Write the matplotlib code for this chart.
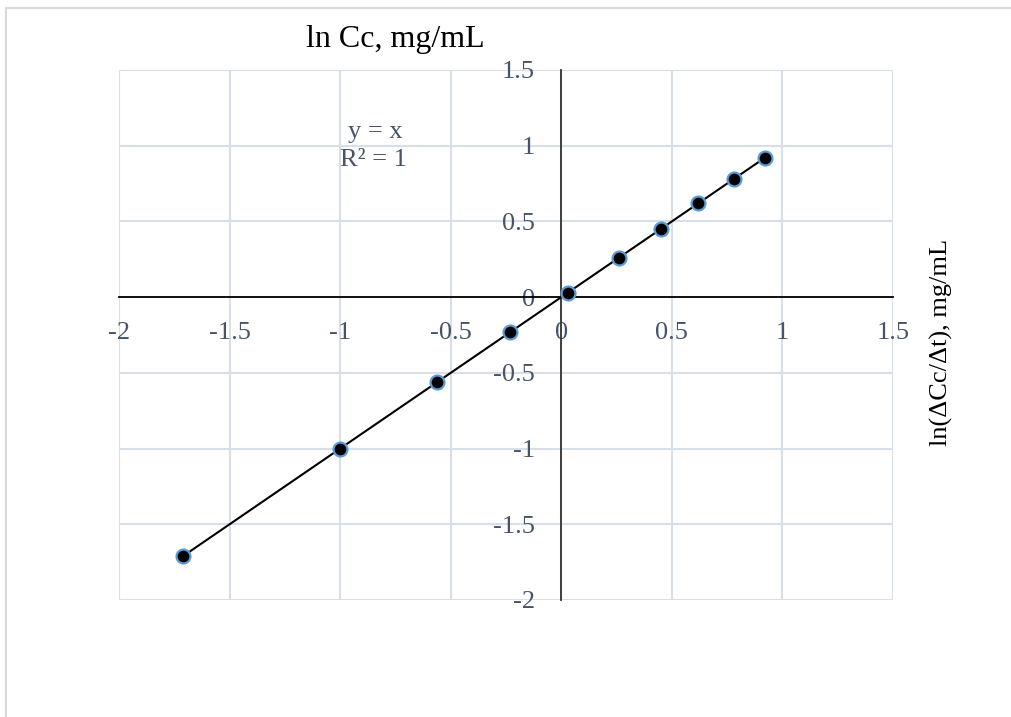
import numpy as np
import matplotlib
matplotlib.use('Agg')
import matplotlib.pyplot as plt
from matplotlib.lines import Line2D

plt.rcParams['font.family'] = ['Liberation Serif', 'DejaVu Serif']

# data
ln_cc = [-1.71, -1.0, -0.56, -0.23, 0.03, 0.26, 0.45, 0.62, 0.78, 0.92]
ln_rate = [-1.71, -1.0, -0.56, -0.23, 0.03, 0.26, 0.45, 0.62, 0.78, 0.92]
xticks = [-2, -1.5, -1, -0.5, 0, 0.5, 1, 1.5]
yticks = [-2, -1.5, -1, -0.5, 0, 0.5, 1, 1.5]
xlabels = ['-2', '-1.5', '-1', '-0.5', '0', '0.5', '1', '1.5']
ylabels = ['-2', '-1.5', '-1', '-0.5', '0', '0.5', '1', '1.5']

W, H = 1011, 717
fig = plt.figure(figsize=(W / 100, H / 100), dpi=100)
ax = fig.add_axes([119 / W, 1 - 600 / H, (893 - 119) / W, (600 - 70) / H])

lab_col = '#44546A'
grid_col = '#D9DFE7'

ax.set_xlim(-2, 1.5)
ax.set_ylim(-2, 1.5)
ax.set_xticks(xticks)
ax.set_xticklabels(xlabels)
ax.set_yticks(yticks)
ax.set_yticklabels(ylabels)
ax.grid(True, color=grid_col, lw=1.5, zorder=0)
for gl in ax.get_xgridlines() + ax.get_ygridlines():
    gl.set_clip_on(False)
ax.set_axisbelow(True)

ax.spines['top'].set_visible(False)
ax.spines['right'].set_visible(False)
ax.spines['left'].set_position('zero')
ax.spines['bottom'].set_position('zero')
ax.spines['left'].set_color('#333333')
ax.spines['bottom'].set_color('black')
ax.spines['left'].set_linewidth(1.3)
ax.spines['bottom'].set_linewidth(1.3)
ax.tick_params(axis='x', length=0, pad=18, labelsize=19, labelcolor=lab_col)
ax.tick_params(axis='y', length=0, pad=19, labelsize=19, labelcolor=lab_col)

# linear trendline
k, b = np.polyfit(ln_cc, ln_rate, 1)
xs = np.array([min(ln_cc), max(ln_cc)])
ax.plot(xs, k * xs + b, color='black', lw=1.5, zorder=3)

ax.plot(ln_cc, ln_rate, 'o', ms=10, mfc='black', mec='#5B9BD5', mew=1.6,
        zorder=4, clip_on=False)

fig.text(375 / W, 1 - 132 / H, 'y = x', ha='center', va='center',
         fontsize=19, color=lab_col)
fig.text(373 / W, 1 - 160 / H, 'R² = 1', ha='center', va='center',
         fontsize=19, color=lab_col)

fig.text(395 / W, 1 - 40 / H, 'ln Cc, mg/mL', ha='center', va='center',
         fontsize=23, color='black')
fig.text(941 / W, 1 - 342 / H, 'ln(ΔCc/Δt), mg/mL', ha='center', va='center',
         rotation=90, fontsize=19, color='black')

# chart area border (top and left only visible)
fig.add_artist(Line2D([6 / W, 1], [1 - 8 / H, 1 - 8 / H], transform=fig.transFigure,
                      color='#D9D9D9', lw=1.5))
fig.add_artist(Line2D([6 / W, 6 / W], [0, 1 - 8 / H], transform=fig.transFigure,
                      color='#D9D9D9', lw=1.5))

fig.savefig('out.png', dpi=100)
